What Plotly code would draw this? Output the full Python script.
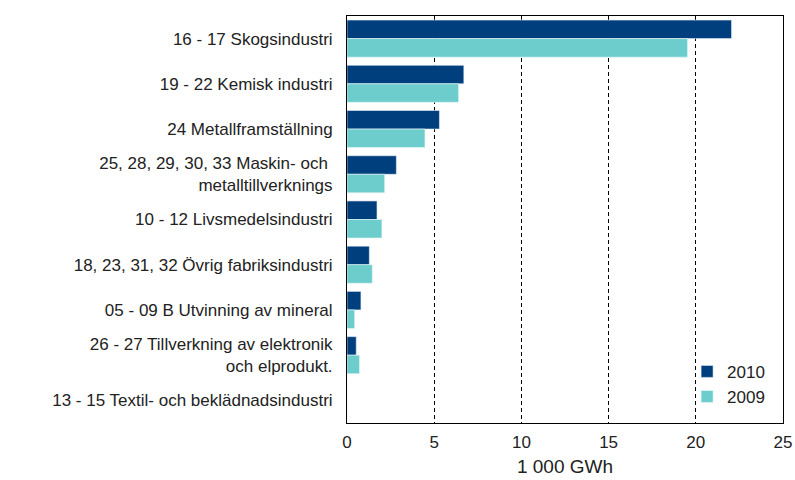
import plotly.graph_objects as go

categories = [
    "16 - 17 Skogsindustri",
    "19 - 22 Kemisk industri",
    "24 Metallframställning",
    "25, 28, 29, 30, 33 Maskin- och\u00a0<br>metalltillverknings",
    "10 - 12 Livsmedelsindustri",
    "18, 23, 31, 32 Övrig fabriksindustri",
    "05 - 09 B Utvinning av mineral",
    "26 - 27 Tillverkning av elektronik<br>och elprodukt.",
    "13 - 15 Textil- och beklädnadsindustri",
]
values_2010 = [22.05, 6.7, 5.3, 2.83, 1.72, 1.28, 0.80, 0.53, 0.0]
values_2009 = [19.53, 6.4, 4.47, 2.16, 2.0, 1.45, 0.44, 0.72, 0.0]
x_ticks = [0, 5, 10, 15, 20, 25]

FONT = "Liberation Sans"

fig = go.Figure()
fig.add_trace(go.Bar(y=categories, x=values_2010, name="2010", orientation="h",
                     marker=dict(color="#003f7d", line=dict(color="#e8f0f8", width=0.6)),
                     legendgroup="a"))
fig.add_trace(go.Bar(y=categories, x=values_2009, name="2009", orientation="h",
                     marker=dict(color="#6dcdcc", line=dict(color="#e8f8f8", width=0.6)),
                     legendgroup="b"))

fig.update_layout(
    width=795, height=480,
    margin=dict(l=347, r=12, t=16, b=57, autoexpand=False),
    paper_bgcolor="white", plot_bgcolor="white",
    barmode="group", bargap=0.18, bargroupgap=0.0,
    font=dict(family=FONT, size=17, color="#222222"),
    showlegend=True,
    legend=dict(x=0.78, y=0.095, xanchor="left", yanchor="middle",
                bgcolor="rgba(0,0,0,0)", font=dict(size=17),
                tracegroupgap=14, traceorder="normal",
                itemwidth=30),
    xaxis=dict(range=[0, 25], tickvals=x_ticks, ticktext=[str(t) for t in x_ticks],
               showgrid=True, gridcolor="black", griddash="4px,3px", gridwidth=1,
               showline=True, linecolor="black", linewidth=1, mirror=True,
               zeroline=False, ticks="", ticklabelstandoff=4, automargin=False,
               title=dict(text="1 000 GWh", standoff=8,
                          font=dict(family=FONT, size=19, color="#222222"))),
    yaxis=dict(autorange="reversed", showgrid=False, showline=True, linecolor="black",
               linewidth=1, mirror=True, ticks="", ticklabelstandoff=10,
               automargin=False),
)

fig.write_html("out.html", post_script="document.body.style.margin='0';",
               config={"displayModeBar": False})
